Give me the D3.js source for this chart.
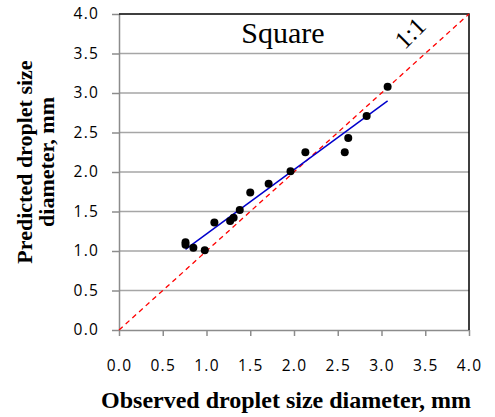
<!DOCTYPE html>
<html>
<head>
<meta charset="utf-8">
<script src="https://cdn.jsdelivr.net/npm/d3@7"></script>
<style>
  body { margin: 0; background: #fff; }
  svg { display: block; }
  .tick text { font-family: "Open Sans", sans-serif; font-size: 15.5px; letter-spacing: 1.2px; fill: #000; }
</style>
</head>
<body>
<script>
const width = 495;
const height = 417;
const margin = { top: 14, right: 26, bottom: 87, left: 119 };

// observed vs predicted droplet diameter, mm
var observed  = [0.76, 0.76, 0.85, 0.98, 1.09, 1.27, 1.31, 1.38, 1.50, 1.71, 1.96, 2.13, 2.58, 2.62, 2.83, 3.07];
var predicted = [1.11, 1.08, 1.04, 1.01, 1.36, 1.38, 1.42, 1.52, 1.74, 1.85, 2.01, 2.25, 2.25, 2.43, 2.71, 3.08];
var tickValues = [0, 0.5, 1.0, 1.5, 2.0, 2.5, 3.0, 3.5, 4.0];
var identityLine = [0, 4];

var svg = d3.select("body").append("svg")
    .attr("width", width)
    .attr("height", height);

var x_scale = d3.scaleLinear().domain([0, 4]).range([margin.left, width - margin.right]);
var y_scale = d3.scaleLinear().domain([0, 4]).range([height - margin.bottom, margin.top]);

//gridlines
svg.append("g")
    .selectAll("line")
    .data(tickValues.slice(1, -1))
    .enter()
    .append("line")
    .attr("x1", x_scale(0))
    .attr("x2", x_scale(4))
    .attr("y1", d => y_scale(d))
    .attr("y2", d => y_scale(d))
    .attr("stroke", "#a6a6a6")
    .attr("stroke-width", 1.5);

//axes
var x_axis = d3.axisBottom(x_scale).tickValues(tickValues).tickFormat(d3.format(".1f")).tickSizeOuter(0).tickSizeInner(6).tickPadding(24);
var y_axis = d3.axisLeft(y_scale).tickValues(tickValues).tickFormat(d3.format(".1f")).tickSizeOuter(0).tickSizeInner(7).tickPadding(13);

var gx = svg.append("g")
    .attr("transform", "translate(0," + y_scale(0) + ")")
    .call(x_axis);
var gy = svg.append("g")
    .attr("transform", "translate(" + x_scale(0) + ",0)")
    .call(y_axis);
[gx, gy].forEach(g => {
    g.select(".domain").attr("stroke", "#8c8c8c").attr("stroke-width", 1.5);
    g.selectAll(".tick line").attr("stroke", "#8c8c8c").attr("stroke-width", 1.5);
});

//plot border top and right
svg.append("path")
    .attr("d", "M" + x_scale(0) + "," + y_scale(4) + "H" + x_scale(4) + "V" + y_scale(0))
    .attr("fill", "none")
    .attr("stroke", "#000")
    .attr("stroke-width", 1.5);

//1:1 line
svg.append("line")
    .attr("x1", x_scale(identityLine[0]))
    .attr("y1", y_scale(identityLine[0]))
    .attr("x2", x_scale(identityLine[1]))
    .attr("y2", y_scale(identityLine[1]))
    .attr("stroke", "#ff0000")
    .attr("stroke-width", 1.3)
    .attr("stroke-dasharray", "5,4");

//least squares fit
var mx = d3.mean(observed), my = d3.mean(predicted);
var sxy = d3.sum(observed, (v, i) => (v - mx) * (predicted[i] - my));
var sxx = d3.sum(observed, v => (v - mx) * (v - mx));
var slope = sxy / sxx;
var intercept = my - slope * mx;
var fitX = d3.extent(observed);
svg.append("line")
    .attr("x1", x_scale(fitX[0]))
    .attr("y1", y_scale(intercept + slope * fitX[0]))
    .attr("x2", x_scale(fitX[1]))
    .attr("y2", y_scale(intercept + slope * fitX[1]))
    .attr("stroke", "#0000cc")
    .attr("stroke-width", 1.5);

//points
svg.append("g")
    .selectAll("circle")
    .data(observed)
    .enter()
    .append("circle")
    .attr("cx", d => x_scale(d))
    .attr("cy", (d, i) => y_scale(predicted[i]))
    .attr("r", 4)
    .attr("fill", "#000");

//labels
svg.append("text")
    .attr("x", 283)
    .attr("y", 43)
    .attr("text-anchor", "middle")
    .style("font-family", "'Liberation Serif', 'Times New Roman', serif")
    .style("font-size", "30px")
    .text("Square");

svg.append("text")
    .attr("transform", "translate(412,35) rotate(-45)")
    .attr("text-anchor", "middle")
    .attr("dominant-baseline", "middle")
    .style("font-family", "'Liberation Serif', 'Times New Roman', serif")
    .style("font-size", "25px")
    .text("1:1");

svg.append("text")
    .attr("x", 286)
    .attr("y", 408)
    .attr("text-anchor", "middle")
    .style("font-family", "'Liberation Serif', 'Times New Roman', serif")
    .style("font-size", "24px")
    .style("font-weight", "bold")
    .text("Observed droplet size diameter, mm");

var ytitle = svg.append("text")
    .attr("transform", "translate(0,162) rotate(-90)")
    .attr("text-anchor", "middle")
    .style("font-family", "'Liberation Serif', 'Times New Roman', serif")
    .style("font-size", "22px")
    .style("font-weight", "bold");
ytitle.append("tspan").attr("x", 0).attr("y", 32).text("Predicted droplet size");
ytitle.append("tspan").attr("x", 0).attr("y", 54).text("diameter, mm");
</script>
</body>
</html>
